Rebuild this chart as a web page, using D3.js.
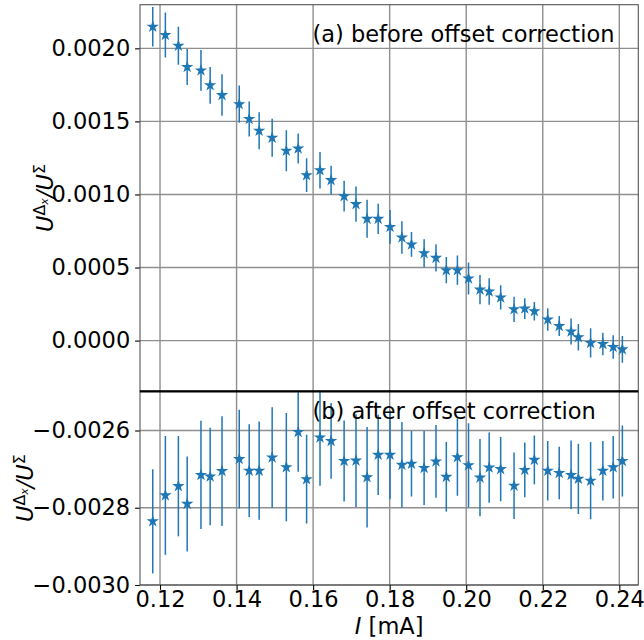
<!DOCTYPE html>
<html>
<head>
<meta charset="utf-8">
<script src="https://cdn.jsdelivr.net/npm/d3@7"></script>
<style>
  html, body { margin: 0; padding: 0; background: #fff; }
  svg { display: block; font-family: "DejaVu Sans", sans-serif; }
</style>
</head>
<body>
<svg id="chart" width="644" height="640"></svg>
<script>
// ---- data ----
const current = [0.1181,0.1214,0.1248,0.1271,0.1307,0.1331,0.1362,0.1407,0.1433,0.1459,0.1493,0.1530,0.1561,0.1583,0.1618,0.1647,0.1681,0.1712,0.1741,0.1770,0.1801,0.1832,0.1857,0.1890,0.1921,0.1948,0.1977,0.2006,0.2036,0.2060,0.2090,0.2125,0.2153,0.2178,0.2213,0.2243,0.2274,0.2293,0.2325,0.2357,0.2384,0.2408];
const ratioBefore = [0.002148,0.002091,0.002018,0.001872,0.001849,0.001747,0.001680,0.001618,0.001516,0.001436,0.001388,0.001299,0.001315,0.001132,0.001166,0.001098,0.000988,0.000934,0.000833,0.000833,0.000778,0.000705,0.000658,0.000598,0.000566,0.000482,0.000482,0.000425,0.000349,0.000336,0.000295,0.000214,0.000219,0.000201,0.000144,0.000100,0.000062,0.000023,-0.000016,-0.000023,-0.000044,-0.000060];
const ratioAfter = [-0.002835,-0.002768,-0.002744,-0.002790,-0.002715,-0.002719,-0.002705,-0.002674,-0.002704,-0.002704,-0.002670,-0.002695,-0.002604,-0.002726,-0.002618,-0.002627,-0.002679,-0.002678,-0.002721,-0.002663,-0.002663,-0.002689,-0.002686,-0.002697,-0.002680,-0.002720,-0.002669,-0.002690,-0.002722,-0.002696,-0.002700,-0.002743,-0.002702,-0.002676,-0.002704,-0.002710,-0.002715,-0.002725,-0.002730,-0.002704,-0.002695,-0.002679];
const ratioErr = [0.000135,0.000154,0.000130,0.000123,0.000140,0.000126,0.000142,0.000128,0.000120,0.000127,0.000130,0.000140,0.000103,0.000115,0.000125,0.000098,0.000105,0.000120,0.000130,0.000104,0.000115,0.000111,0.000085,0.000096,0.000094,0.000090,0.000100,0.000109,0.000100,0.000091,0.000083,0.000086,0.000071,0.000063,0.000077,0.000068,0.000089,0.000091,0.000100,0.000077,0.000081,0.000092];
const xTicks = [0.12,0.14,0.16,0.18,0.20,0.22,0.24];
const yTicksTop = [0.0000,0.0005,0.0010,0.0015,0.0020];
const yTicksBottom = [-0.0030,-0.0028,-0.0026];
const panelTitles = ["(a) before offset correction", "(b) after offset correction"];

// ---- layout ----
const svg = d3.select("#chart");
const left = 140, right = 638.3;
const FS = 22.5;
const blue = "#1f77b4";
const gridColor = "#8f8f8f";

const x = d3.scaleLinear().domain([0.11477, 0.24496]).range([left, right]);

const panels = [
  { top: 4.7, bottom: 391.3, domain: [-0.000347, 0.0022986], ticks: yTicksTop, values: ratioBefore, title: panelTitles[0], titleY: 41.5, labelX: 52.5 },
  { top: 391.3, bottom: 585, domain: [-0.0030, -0.0024985], ticks: yTicksBottom, values: ratioAfter, title: panelTitles[1], titleY: 419.3, labelX: 32.5 }
];

const fmt = d3.format(".4f");
const star = d3.symbol().type(d3.symbolStar).size(22);

panels.forEach((p, pi) => {
  const y = d3.scaleLinear().domain(p.domain).range([p.bottom, p.top]);
  const g = svg.append("g");
  const clipId = "clip" + pi;
  svg.append("clipPath").attr("id", clipId)
    .append("rect").attr("x", left).attr("y", p.top).attr("width", right - left).attr("height", p.bottom - p.top);

  // grid
  g.append("g").selectAll("line").data(xTicks).join("line")
    .attr("x1", d => x(d)).attr("x2", d => x(d))
    .attr("y1", p.top).attr("y2", p.bottom)
    .attr("stroke", gridColor).attr("stroke-width", 1.4);
  g.append("g").selectAll("line").data(p.ticks).join("line")
    .attr("x1", left).attr("x2", right)
    .attr("y1", d => y(d)).attr("y2", d => y(d))
    .attr("stroke", gridColor).attr("stroke-width", 1.4);

  // y axis ticks & labels
  const yAxis = d3.axisLeft(y).tickValues(p.ticks).tickFormat(fmt).tickSize(4.9).tickPadding(4.9);
  const ya = g.append("g").attr("transform", `translate(${left},0)`).call(yAxis);
  ya.select(".domain").remove();
  ya.selectAll(".tick line").attr("stroke", "#000").attr("stroke-width", 1.1);
  ya.selectAll(".tick text").attr("font-size", FS).attr("font-family", "DejaVu Sans").attr("fill", "#000");

  // data
  const data = current.map((c, i) => ({ x: c, y: p.values[i], e: ratioErr[i] }));
  const dg = g.append("g").attr("clip-path", `url(#${clipId})`);
  dg.selectAll("line.err").data(data).join("line").attr("class", "err")
    .attr("x1", d => x(d.x)).attr("x2", d => x(d.x))
    .attr("y1", d => y(d.y - d.e)).attr("y2", d => y(d.y + d.e))
    .attr("stroke", blue).attr("stroke-width", 1.5);
  dg.selectAll("path.pt").data(data).join("path").attr("class", "pt")
    .attr("d", star)
    .attr("transform", d => `translate(${x(d.x)},${y(d.y)})`)
    .attr("fill", blue).attr("stroke", blue).attr("stroke-width", 1.3).attr("stroke-linejoin", "miter");

  // frame
  g.append("rect").attr("x", left).attr("y", p.top).attr("width", right - left).attr("height", p.bottom - p.top)
    .attr("fill", "none").attr("stroke", "#555").attr("stroke-width", 1.1);

  // panel title
  g.append("text").attr("x", 312.5).attr("y", p.titleY).attr("font-size", FS).attr("fill", "#000").text(p.title);

  // y label
  const cy = (p.top + p.bottom) / 2;
  const lab = g.append("text").attr("transform", `translate(${p.labelX},${cy}) rotate(-90)`)
    .attr("text-anchor", "middle").attr("font-size", FS).attr("fill", "#000");
  lab.append("tspan").attr("font-style", "italic").text("U");
  lab.append("tspan").attr("font-size", FS * 0.7).attr("dy", -8).text("Δ");
  lab.append("tspan").attr("font-size", FS * 0.49).attr("font-style", "italic").attr("dy", 3).text("x");
  lab.append("tspan").attr("font-style", "italic").attr("dy", 5).text("/U");
  lab.append("tspan").attr("font-size", FS * 0.7).attr("dy", -8).text("Σ");
});

// black separator
svg.append("line").attr("x1", left).attr("x2", right).attr("y1", 391.3).attr("y2", 391.3)
  .attr("stroke", "#000").attr("stroke-width", 2.2);

// x axis
const xAxis = d3.axisBottom(x).tickValues(xTicks).tickFormat(d3.format(".2f")).tickSize(4.9).tickPadding(4.9);
const xa = svg.append("g").attr("transform", "translate(0,585)").call(xAxis);
xa.select(".domain").remove();
xa.selectAll(".tick line").attr("stroke", "#000").attr("stroke-width", 1.1);
xa.selectAll(".tick text").attr("font-size", FS).attr("font-family", "DejaVu Sans").attr("fill", "#000")
  .attr("dy", null).attr("y", 22.3);

const xl = svg.append("text").attr("x", (left + right) / 2).attr("y", 634).attr("text-anchor", "middle")
  .attr("font-size", FS).attr("fill", "#000");
xl.append("tspan").attr("font-style", "italic").text("I");
xl.append("tspan").text(" [mA]");
</script>
</body>
</html>
